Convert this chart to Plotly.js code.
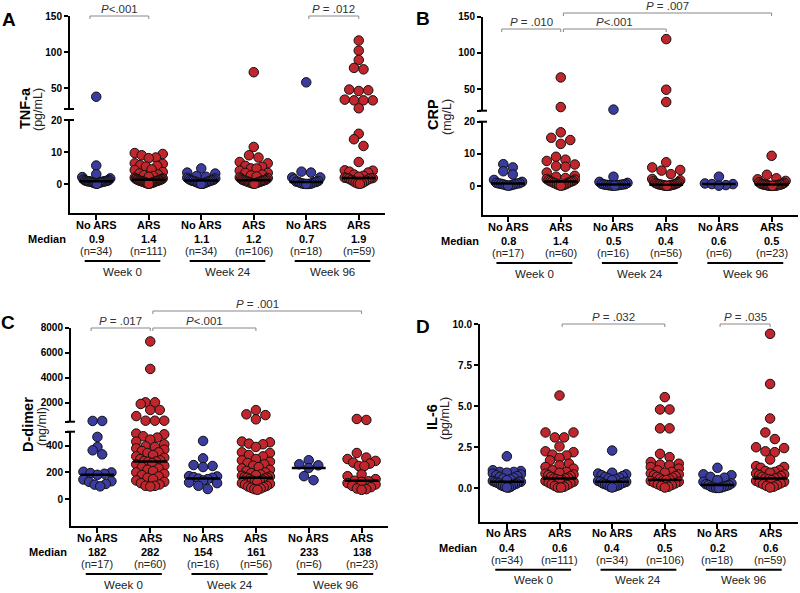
<!DOCTYPE html>
<html><head><meta charset="utf-8">
<script src="https://cdn.plot.ly/plotly-3.0.1.min.js"></script>
<style>html,body{margin:0;padding:0;background:#fff}#chart{width:800px;height:593px}</style>
</head><body><div id="chart"></div>
<script>
// ---------------- DATA ----------------
const groupLabels = ["No ARS","ARS","No ARS","ARS","No ARS","ARS"];
const weekLabels = ["Week 0","Week 24","Week 96"];

// Panel A: TNF-a (pg/mL)
const tnfValues = [
  [38, 5.8, 3.1, 2.2, 1.8, 1.5, 1.3, 1.2, 1.1, 1.0, 1.0, 0.9, 0.9, 0.9, 0.8, 0.8, 0.7, 0.7, 0.6, 0.5, 0.5, 0.4, 0.3, 0.2, 0.1],
  [9.7, 9.4, 9.0, 8.3, 8.1, 6.5, 6.3, 5.9, 5.7, 5.5, 4.6, 4.4, 3.8, 3.3, 3.0, 2.8, 2.5, 2.3, 2.0, 1.8, 1.7, 1.6, 1.5, 1.4, 1.4, 1.3, 1.2, 1.2, 1.1, 1.1, 1.0, 1.0, 0.9, 0.9, 0.8, 0.8, 0.7, 0.6, 0.6, 0.5, 0.4, 0.4, 0.3, 0.3, 0.2, 0.2, 0.1],
  [4.9, 3.6, 3.3, 2.5, 2.3, 2.0, 1.8, 1.6, 1.4, 1.3, 1.2, 1.1, 1.1, 1.0, 0.9, 0.8, 0.7, 0.6, 0.5, 0.4, 0.3, 0.2, 0.1, 0.1],
  [72, 11.6, 9.0, 8.3, 6.9, 6.5, 5.7, 5.4, 4.9, 4.9, 4.2, 3.5, 3.5, 3.0, 2.7, 2.4, 2.1, 1.9, 1.7, 1.5, 1.4, 1.3, 1.2, 1.2, 1.1, 1.0, 0.9, 0.9, 0.8, 0.7, 0.6, 0.6, 0.5, 0.4, 0.3, 0.3, 0.2, 0.1],
  [58, 3.9, 3.6, 2.1, 2.1, 1.5, 1.0, 0.8, 0.7, 0.7, 0.6, 0.4, 0.3, 0.2, 0.1, 0.1, 0.05, 0.05],
  [116, 102, 89, 78, 76, 48, 47, 46, 34, 33, 33, 33, 22, 15.7, 14, 11.9, 6.9, 4.3, 4.2, 3.9, 3.6, 3.0, 2.6, 2.3, 2.0, 1.9, 1.9, 1.8, 1.7, 1.5, 1.3, 1.1, 0.9, 0.7, 0.5, 0.3, 0.2, 0.1]
];
const tnfMedians = [0.9, 1.4, 1.1, 1.2, 0.7, 1.9];
const tnfN = [34, 111, 34, 106, 18, 59];
const tnfComparisons = [{from:0, to:1, p:"<.001", level:0}, {from:4, to:5, p:"= .012", level:0}];

// Panel B: CRP (mg/L)
const crpValues = [
  [6.8, 5.8, 4.6, 3.6, 1.9, 1.3, 1.0, 0.9, 0.8, 0.8, 0.7, 0.6, 0.5, 0.4, 0.3, 0.2, 0.1],
  [66, 25, 16.7, 15.0, 14.3, 13.1, 9.1, 8.2, 7.8, 6.7, 6.2, 6.0, 4.2, 3.2, 2.9, 2.5, 2.2, 2.0, 1.8, 1.6, 1.5, 1.4, 1.3, 1.2, 1.0, 0.9, 0.8, 0.6, 0.5, 0.4, 0.3, 0.2, 0.1],
  [21.5, 2.9, 1.3, 1.0, 0.7, 0.6, 0.5, 0.5, 0.4, 0.4, 0.3, 0.3, 0.2, 0.2, 0.1, 0.1],
  [119, 49, 32, 7.4, 5.8, 5.0, 4.8, 3.7, 2.2, 1.8, 1.5, 1.2, 1.0, 0.9, 0.8, 0.7, 0.6, 0.5, 0.5, 0.4, 0.4, 0.3, 0.3, 0.2, 0.2, 0.1, 0.1, 0.05],
  [2.9, 0.8, 0.6, 0.6, 0.3, 0.1],
  [9.4, 3.5, 2.4, 2.1, 1.6, 1.2, 1.0, 0.8, 0.7, 0.6, 0.5, 0.5, 0.5, 0.4, 0.3, 0.3, 0.2, 0.2, 0.1, 0.1, 0.1, 0.05, 0.05]
];
const crpMedians = [0.8, 1.4, 0.5, 0.4, 0.6, 0.5];
const crpN = [17, 60, 16, 56, 6, 23];
const crpComparisons = [{from:0, to:1, p:"= .010", level:0}, {from:1, to:3, p:"<.001", level:0}, {from:1, to:5, p:"= .007", level:1}];

// Panel C: D-dimer (ng/ml)
const ddValues = [
  [540, 540, 465, 390, 365, 335, 205, 200, 195, 190, 182, 147, 134, 130, 114, 109, 96],
  [6900, 4700, 2030, 2030, 1900, 1420, 1420, 930, 560, 560, 560, 490, 485, 470, 460, 445, 430, 410, 395, 390, 380, 370, 360, 350, 345, 330, 320, 310, 300, 290, 285, 282, 280, 270, 260, 250, 240, 230, 220, 210, 200, 190, 180, 170, 160, 150, 140, 130, 120, 110, 100, 100, 95],
  [435, 305, 255, 248, 240, 172, 170, 165, 160, 154, 150, 140, 125, 120, 100, 76],
  [1410, 1070, 1010, 670, 430, 425, 415, 410, 390, 350, 345, 330, 320, 300, 290, 280, 270, 260, 250, 240, 230, 220, 210, 200, 195, 185, 180, 175, 170, 165, 161, 160, 155, 150, 145, 140, 135, 130, 125, 120, 115, 110, 100, 95, 90, 85, 80, 75, 70],
  [291, 261, 253, 233, 172, 142],
  [700, 620, 345, 311, 300, 286, 273, 266, 248, 248, 185, 172, 150, 138, 134, 130, 120, 110, 100, 90, 80, 75, 70]
];
const ddMedians = [182, 282, 154, 161, 233, 138];
const ddN = [17, 60, 16, 56, 6, 23];
const ddComparisons = [{from:0, to:1, p:"= .017", level:0}, {from:1, to:3, p:"<.001", level:0}, {from:1, to:5, p:"= .001", level:1}];

// Panel D: IL-6 (pg/mL)
const il6Values = [
  [1.95, 1.1, 1.05, 1.0, 1.0, 0.95, 0.9, 0.85, 0.8, 0.75, 0.7, 0.65, 0.6, 0.55, 0.5, 0.45, 0.4, 0.4, 0.4, 0.35, 0.3, 0.3, 0.25, 0.2, 0.2, 0.15, 0.1, 0.1, 0.05, 0.05],
  [5.65, 3.4, 3.4, 3.1, 3.1, 2.55, 2.25, 2.2, 2.05, 2.0, 1.85, 1.7, 1.5, 1.4, 1.3, 1.2, 1.1, 1.0, 0.95, 0.9, 0.85, 0.8, 0.75, 0.7, 0.65, 0.6, 0.6, 0.55, 0.5, 0.5, 0.45, 0.4, 0.35, 0.3, 0.25, 0.2, 0.15, 0.1, 0.05, 0.05],
  [2.3, 0.95, 0.9, 0.85, 0.8, 0.75, 0.7, 0.65, 0.6, 0.55, 0.5, 0.45, 0.4, 0.4, 0.35, 0.3, 0.3, 0.25, 0.2, 0.2, 0.15, 0.1, 0.1, 0.05],
  [5.55, 4.8, 4.8, 3.65, 3.65, 2.1, 1.9, 1.6, 1.5, 1.45, 1.4, 1.3, 1.2, 1.1, 1.0, 0.95, 0.9, 0.85, 0.8, 0.75, 0.7, 0.65, 0.6, 0.55, 0.5, 0.5, 0.45, 0.4, 0.35, 0.3, 0.25, 0.2, 0.15, 0.1, 0.05],
  [1.25, 0.85, 0.8, 0.7, 0.65, 0.5, 0.4, 0.3, 0.25, 0.2, 0.2, 0.15, 0.1, 0.1, 0.05, 0.05, 0.02, 0.02],
  [9.4, 6.35, 4.25, 3.4, 3.0, 2.5, 2.45, 2.25, 2.2, 1.75, 1.35, 1.3, 1.25, 1.1, 1.05, 1.0, 0.95, 0.9, 0.85, 0.8, 0.75, 0.7, 0.65, 0.6, 0.6, 0.55, 0.5, 0.45, 0.4, 0.35, 0.3, 0.25, 0.2, 0.15, 0.1, 0.05]
];
const il6Medians = [0.4, 0.6, 0.4, 0.5, 0.2, 0.6];
const il6N = [34, 111, 34, 106, 18, 59];
const il6Comparisons = [{from:1, to:3, p:"= .032", level:0}, {from:4, to:5, p:"= .035", level:0}];

// ---------------- LAYOUT GEOMETRY ----------------
const W = 800, H = 593;
const px = x => x / W, py = y => 1 - y / H;
const FONT = '"Liberation Sans", Arial, Helvetica, sans-serif';
const BLUE = '#3a3d9e', RED = '#c0262c';
const DOT = 9.5, HALF_W = 14, BIN_H = 7;

const panels = [
  {letter:'A', letterPos:[9,20], values:tnfValues, medians:tnfMedians, n:tnfN, comps:tnfComparisons, dec:1,
   title:'TNF-a', unit:'(pg/mL)', titleX:[25,38], titleY:108,
   xa:'x', xLeft:70, xRight:385, xRange:[-0.5,5.5], medianRight:68, bracketY:[16],
   segs:[{id:'y', range:[-9,20], top:120, bottom:213, tickvals:[0,10,20], ticktext:['0','10','20']},
         {id:'y2', range:[21,150], top:16, bottom:109, tickvals:[21,50,100,150], ticktext:['','50','100','150']}]},
  {letter:'B', letterPos:[423,19], values:crpValues, medians:crpMedians, n:crpN, comps:crpComparisons, dec:1,
   title:'CRP', unit:'(mg/L)', titleX:[433,447], titleY:115,
   xa:'x2', xLeft:483, xRight:798, xRange:[-0.475,5.5], medianRight:481, bracketY:[29,13],
   segs:[{id:'y3', range:[-9,20], top:121.7, bottom:215, tickvals:[0,10,20], ticktext:['0','10','20']},
         {id:'y4', range:[20,150], top:16.7, bottom:110.7, tickvals:[20,50,100,150], ticktext:['','50','100','150']}]},
  {letter:'C', letterPos:[8,322], values:ddValues, medians:ddMedians, n:ddN, comps:ddComparisons, dec:0,
   title:'D-dimer', unit:'(ng/ml)', titleX:[28,42], titleY:425,
   xa:'x3', xLeft:71, xRight:388, xRange:[-0.5,5.5], medianRight:69, bracketY:[328,311],
   segs:[{id:'y5', range:[-200,504], top:431.7, bottom:526, tickvals:[0,200,400,504], ticktext:['0','200','400','']},
         {id:'y6', range:[480,8000], top:327.7, bottom:421.7, tickvals:[480,2000,4000,6000,8000], ticktext:['','2000','4000','6000','8000']}]},
  {letter:'D', letterPos:[423,326], values:il6Values, medians:il6Medians, n:il6N, comps:il6Comparisons, dec:1,
   title:'IL-6', unit:'(pg/mL)', titleX:[432,445], titleY:417,
   xa:'x4', xLeft:480, xRight:798, xRange:[-0.51,5.53], medianRight:479, bracketY:[324],
   segs:[{id:'y7', range:[-2.03,10], top:324, bottom:521.7, tickvals:[0,2.5,5,7.5,10], ticktext:['0.0','2.5','5.0','7.5','10.0']}]}
];

function axKey(id, letter){ return letter + 'axis' + id.slice(1); }
function segIndex(p, v){ return (p.segs.length > 1 && v > p.segs[0].range[1]) ? 1 : 0; }
function valToPx(p, v){
  const s = p.segs[segIndex(p, v)];
  return s.bottom - (v - s.range[0]) / (s.range[1] - s.range[0]) * (s.bottom - s.top);
}

// Prism-like scatter: group points into rows of nearby pixel height, spread each
// row horizontally, with the highest values of a row at the outside (smile shape)
function spread(yPx){
  const order = yPx.map((y, i) => i).sort((a, b) => yPx[b] - yPx[a]); // bottom first
  const rows = [];
  let cur = null, start = 0;
  order.forEach(i => {
    if(!cur || start - yPx[i] > BIN_H){ cur = []; rows.push(cur); start = yPx[i]; }
    cur.push(i);
  });
  const off = new Array(yPx.length).fill(0);
  rows.forEach(list => {
    const m = list.length;
    if(m === 1){ off[list[0]] = 0; return; }
    const sp = Math.min(DOT, 2 * HALF_W / (m - 1));
    const pos = [];
    for(let k = 0; k < m; k++) pos.push((k - (m - 1) / 2) * sp);
    pos.sort((a, b) => (Math.abs(b) - Math.abs(a)) || (a - b));
    const byVal = list.slice().sort((a, b) => yPx[a] - yPx[b]); // highest value first
    byVal.forEach((idx, k) => { off[idx] = pos[k]; });
  });
  return off;
}

const traces = [], annotations = [], shapes = [];
const layout = {
  width: W, height: H, margin:{l:0,r:0,t:0,b:0},
  paper_bgcolor:'#fff', plot_bgcolor:'rgba(0,0,0,0)', showlegend:false,
  font:{family:FONT, color:'#000'}, annotations, shapes
};
function ann(o){ annotations.push(Object.assign({showarrow:false, xanchor:'center', yanchor:'middle'}, o)); }

panels.forEach(p => {
  const lower = p.segs[0];
  const xAxisY = lower.bottom;
  const ppu = (p.xRight - p.xLeft) / (p.xRange[1] - p.xRange[0]);

  layout[axKey(p.xa,'x')] = {
    domain:[px(p.xLeft), px(p.xRight)], range:p.xRange, anchor:lower.id,
    showline:true, linewidth:2, linecolor:'#000', ticks:'outside', ticklen:5, tickwidth:2, tickcolor:'#000',
    tickvals:[0,1,2,3,4,5], showticklabels:false, showgrid:false, zeroline:false, fixedrange:true
  };
  p.segs.forEach(s => {
    layout[axKey(s.id,'y')] = {
      domain:[py(s.bottom), py(s.top)], range:s.range, anchor:p.xa,
      showline:true, linewidth:2, linecolor:'#000', ticks:'outside', ticklen:4, tickwidth:2, tickcolor:'#000',
      tickvals:s.tickvals, ticktext:s.ticktext, tickfont:{family:FONT, size:10, color:'#000', weight:'bold'},
      showgrid:false, zeroline:false, fixedrange:true
    };
  });
  if(p.segs.length > 1){
    [p.segs[1].bottom, p.segs[0].top].forEach(yy => {
      shapes.push({type:'line', xref:'paper', yref:'paper', x0:px(p.xLeft-4), x1:px(p.xLeft+4), y0:py(yy), y1:py(yy), line:{color:'#000', width:2}});
    });
  }

  // points
  const buckets = [0,1].map(() => p.segs.map(() => ({x:[], y:[]})));
  p.values.forEach((vals, g) => {
    const yPx = vals.map(v => valToPx(p, v));
    const off = spread(yPx);
    vals.forEach((v, i) => {
      const b = buckets[g % 2][segIndex(p, v)];
      b.x.push(g + off[i] / ppu); b.y.push(v);
    });
  });
  [0,1].forEach(c => p.segs.forEach((s, si) => {
    const b = buckets[c][si];
    if(!b.x.length) return;
    traces.push({type:'scatter', mode:'markers', x:b.x, y:b.y, xaxis:p.xa, yaxis:s.id, cliponaxis:false,
      hoverinfo:'skip', marker:{size:DOT, color: c===0 ? BLUE : RED, line:{color:'#111', width:1}}});
  }));
  // median lines
  const mx = [], my = [];
  p.medians.forEach((m, g) => { mx.push(g-0.32, g+0.32, null); my.push(m, m, null); });
  traces.push({type:'scatter', mode:'lines', x:mx, y:my, xaxis:p.xa, yaxis:lower.id, cliponaxis:false,
    hoverinfo:'skip', line:{color:'#000', width:2.5}});

  // panel letter & y titles
  ann({text:'<b>'+p.letter+'</b>', xref:'paper', yref:'paper', x:px(p.letterPos[0]), y:py(p.letterPos[1]), font:{size:19, family:FONT, color:'#000'}});
  ann({text:'<b>'+p.title+'</b>', xref:'paper', yref:'paper', x:px(p.titleX[0]), y:py(p.titleY), textangle:-90, font:{size:14.5, family:FONT, color:'#000'}});
  ann({text:p.unit, xref:'paper', yref:'paper', x:px(p.titleX[1]), y:py(p.titleY+2), textangle:-90, font:{size:12.5, family:FONT, color:'#222'}});

  // category labels, medians, n
  groupLabels.forEach((lab, g) => {
    ann({text:'<b>'+lab+'</b>', xref:p.xa, yref:'paper', x:g, y:py(xAxisY+11.5), font:{size:11, family:FONT, color:'#000'}});
    ann({text:'<b>'+p.medians[g].toFixed(p.dec)+'</b>', xref:p.xa, yref:'paper', x:g, y:py(xAxisY+26), font:{size:11, family:FONT, color:'#000'}});
    ann({text:'(n='+p.n[g]+')', xref:p.xa, yref:'paper', x:g, y:py(xAxisY+38), font:{size:11, family:FONT, color:'#222'}});
  });
  ann({text:'<b>Median</b>', xref:'paper', yref:'paper', x:px(p.medianRight), xanchor:'right', y:py(xAxisY+26), font:{size:11, family:FONT, color:'#000'}});
  weekLabels.forEach((w, k) => {
    shapes.push({type:'line', xref:p.xa, yref:'paper', x0:2*k-0.22, x1:2*k+1.22, y0:py(xAxisY+48), y1:py(xAxisY+48), line:{color:'#000', width:2}});
    ann({text:w, xref:p.xa, yref:'paper', x:2*k+0.5, y:py(xAxisY+58.5), font:{size:11.5, family:FONT, color:'#222'}});
  });

  // comparison brackets
  p.comps.forEach(c => {
    const yb = p.bracketY[c.level];
    const x0 = c.from === 0 ? c.from - 0.12 : c.from + 0.05;
    const x1 = c.to;
    shapes.push({type:'path', xref:p.xa, yref:'paper',
      path:`M ${x0},${py(yb+3)} L ${x0},${py(yb)} L ${x1},${py(yb)} L ${x1},${py(yb+3)}`,
      line:{color:'#888', width:1}});
    const t = c.p[0] === '<' ? '<i>P</i>&lt;' + c.p.slice(1) : '<i>P</i> ' + c.p;
    ann({text:t, xref:p.xa, yref:'paper', x:(x0+x1)/2, y:py(yb-7), font:{size:11.5, family:FONT, color:'#333'}});
  });
});

Plotly.newPlot('chart', traces, layout, {staticPlot:true, displayModeBar:false});
</script>
</body></html>
